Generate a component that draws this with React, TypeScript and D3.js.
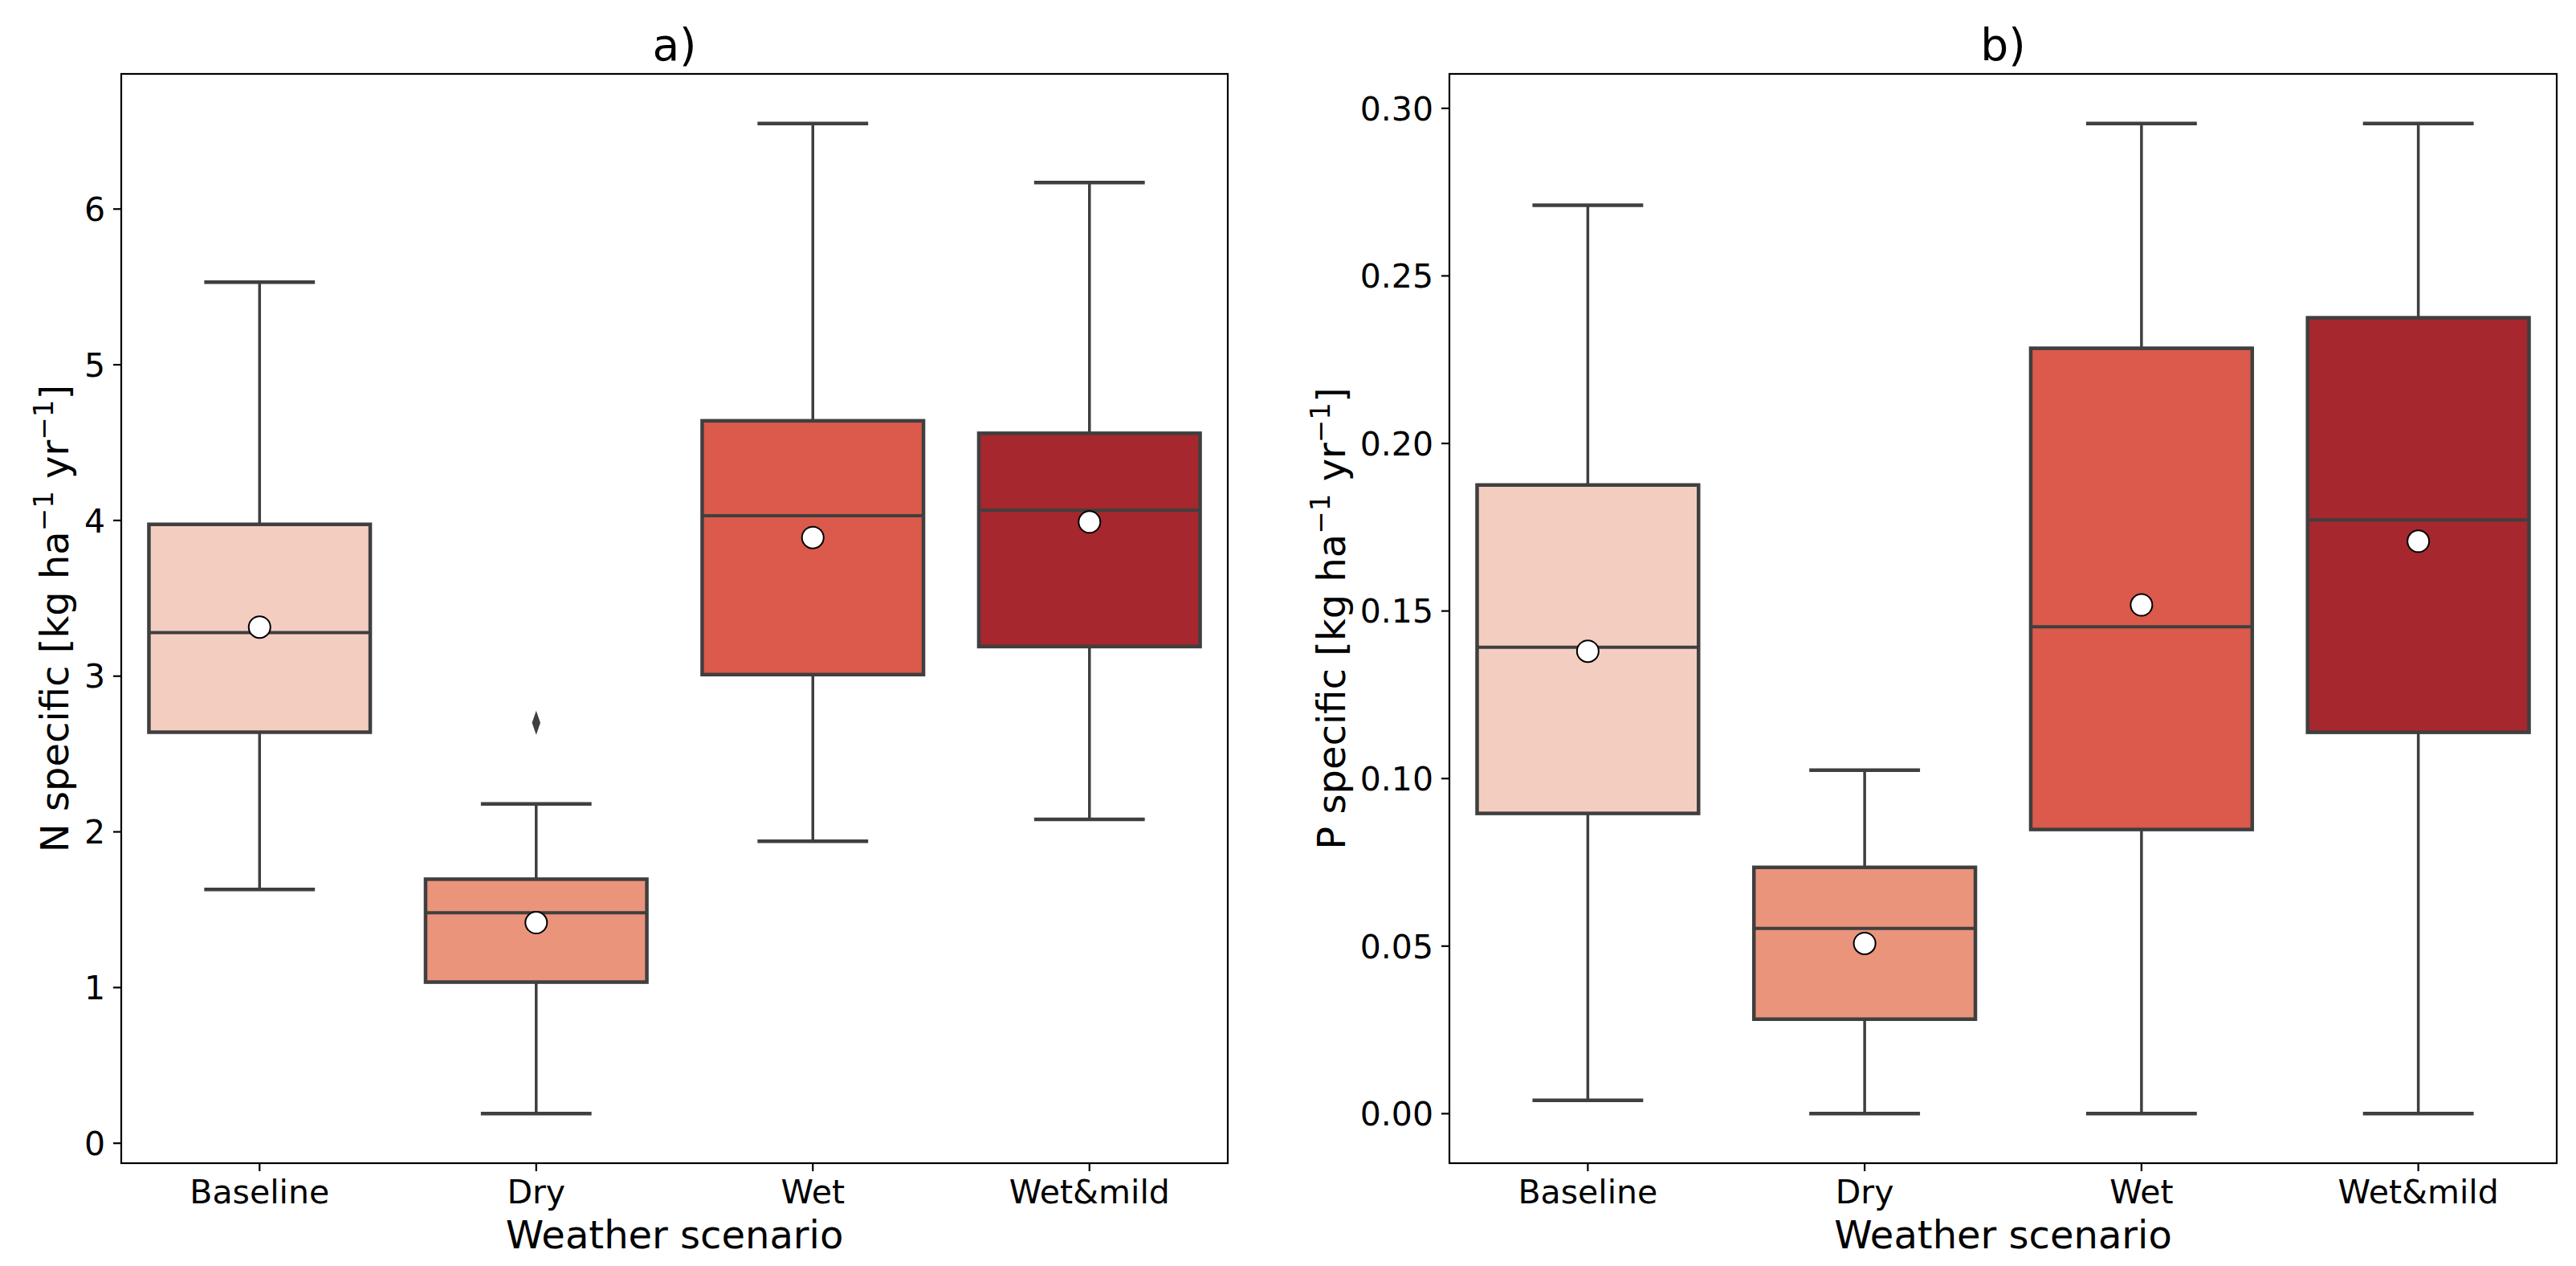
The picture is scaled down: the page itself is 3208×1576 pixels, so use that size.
import * as d3 from "d3";

const categories = ["Baseline", "Dry", "Wet", "Wet&mild"];
const boxColors = ["#f4cdc1", "#ea947b", "#db5a4b", "#a6272d"];

// panel a: N specific
const nLow = [1.63, 0.19, 1.94, 2.08];
const nQ1 = [2.64, 1.035, 3.01, 3.19];
const nMedian = [3.28, 1.48, 4.03, 4.065];
const nMean = [3.315, 1.417, 3.89, 3.99];
const nQ3 = [3.975, 1.696, 4.64, 4.56];
const nHigh = [5.53, 2.18, 6.55, 6.17];
const nOutliers = [[], [2.7], [], []];
const nTicks = [0, 1, 2, 3, 4, 5, 6];

// panel b: P specific
const pLow = [0.004, 0, 0, 0];
const pQ1 = [0.0896, 0.0282, 0.0848, 0.1138];
const pMedian = [0.1392, 0.0553, 0.1453, 0.1772];
const pMean = [0.138, 0.0508, 0.1518, 0.1708];
const pQ3 = [0.1876, 0.0735, 0.2284, 0.2375];
const pHigh = [0.2711, 0.1025, 0.2955, 0.2955];
const pOutliers = [[], [], [], []];
const pTicks = [0, 0.05, 0.1, 0.15, 0.2, 0.25, 0.3];

const W = 3208;
const H = 1576;
const TOP = 92;
const BOTTOM = 1448;
const EDGE = "#3f3f3f";
const FONT = "DejaVu Sans";

interface PanelProps {
  x0: number;
  x1: number;
  title: string;
  label: string;
  low: number[];
  q1: number[];
  median: number[];
  mean: number[];
  q3: number[];
  high: number[];
  outliers: number[][];
  ticks: number[];
  fmt: (v: number) => string;
  labelX: number;
}

const diamond = d3.symbol().type(d3.symbolDiamond).size(260)();

function Panel(p: PanelProps) {
  const x = d3.scalePoint<string>().domain(categories).range([p.x0, p.x1]).padding(0.5);
  const step = x.step();
  const bw = step * 0.8;
  const cw = bw / 2;
  const all = [...p.low, ...p.high, ...p.outliers.flat()];
  const lo = d3.min(all)!;
  const hi = d3.max(all)!;
  const m = (hi - lo) * 0.05;
  const y = d3.scaleLinear().domain([lo - m, hi + m]).range([BOTTOM, TOP]);
  const cx = (p.x0 + p.x1) / 2;
  const cy = (TOP + BOTTOM) / 2;

  return (
    <g>
      {categories.map((c, i) => {
        const xc = x(c)!;
        return (
          <g key={c}>
            <line x1={xc} x2={xc} y1={y(p.q3[i])} y2={y(p.high[i])} stroke={EDGE} strokeWidth={3.5} />
            <line x1={xc} x2={xc} y1={y(p.q1[i])} y2={y(p.low[i])} stroke={EDGE} strokeWidth={3.5} />
            <line x1={xc - cw / 2} x2={xc + cw / 2} y1={y(p.high[i])} y2={y(p.high[i])} stroke={EDGE} strokeWidth={4.5} />
            <line x1={xc - cw / 2} x2={xc + cw / 2} y1={y(p.low[i])} y2={y(p.low[i])} stroke={EDGE} strokeWidth={4.5} />
            <rect
              x={xc - bw / 2}
              y={y(p.q3[i])}
              width={bw}
              height={y(p.q1[i]) - y(p.q3[i])}
              fill={boxColors[i]}
              stroke={EDGE}
              strokeWidth={4.5}
            />
            <line x1={xc - bw / 2} x2={xc + bw / 2} y1={y(p.median[i])} y2={y(p.median[i])} stroke={EDGE} strokeWidth={4} />
            {p.outliers[i].map((o, k) => (
              <path key={k} d={diamond} transform={`translate(${xc},${y(o)}) scale(0.6,1)`} fill={EDGE} />
            ))}
            <circle cx={xc} cy={y(p.mean[i])} r={13.5} fill="white" stroke="black" strokeWidth={2} />
          </g>
        );
      })}
      <rect x={p.x0} y={TOP} width={p.x1 - p.x0} height={BOTTOM - TOP} fill="none" stroke="black" strokeWidth={2.2} />
      {p.ticks.map((t) => (
        <g key={t}>
          <line x1={p.x0 - 10} x2={p.x0} y1={y(t)} y2={y(t)} stroke="black" strokeWidth={2.2} />
          <text x={p.x0 - 20} y={y(t)} dy="0.36em" textAnchor="end" fontSize={41} fontFamily={FONT}>
            {p.fmt(t)}
          </text>
        </g>
      ))}
      {categories.map((c) => (
        <g key={c}>
          <line x1={x(c)!} x2={x(c)!} y1={BOTTOM} y2={BOTTOM + 10} stroke="black" strokeWidth={2.2} />
          <text x={x(c)!} y={1498} textAnchor="middle" fontSize={41} fontFamily={FONT}>
            {c}
          </text>
        </g>
      ))}
      <text x={cx} y={1554} textAnchor="middle" fontSize={48} fontFamily={FONT}>
        Weather scenario
      </text>
      <text x={cx} y={75} textAnchor="middle" fontSize={55} fontFamily={FONT}>
        {p.title}
      </text>
      <text transform={`translate(${p.labelX},${cy}) rotate(-90)`} textAnchor="middle" fontSize={48} fontFamily={FONT}>
        {p.label} [kg ha
        <tspan fontSize={34} dy={-19}>−1</tspan>
        <tspan dy={19}> yr</tspan>
        <tspan fontSize={34} dy={-19}>−1</tspan>
        <tspan dy={19}>]</tspan>
      </text>
    </g>
  );
}

export default function App() {
  return (
    <div style={{ position: "absolute", left: 0, top: 0 }}>
      <svg width={W} height={H} style={{ display: "block", background: "white" }}>
        <Panel
          x0={151}
          x1={1529}
          title="a)"
          label="N specific"
          low={nLow}
          q1={nQ1}
          median={nMedian}
          mean={nMean}
          q3={nQ3}
          high={nHigh}
          outliers={nOutliers}
          ticks={nTicks}
          fmt={d3.format("d")}
          labelX={85}
        />
        <Panel
          x0={1805}
          x1={3184}
          title="b)"
          label="P specific"
          low={pLow}
          q1={pQ1}
          median={pMedian}
          mean={pMean}
          q3={pQ3}
          high={pHigh}
          outliers={pOutliers}
          ticks={pTicks}
          fmt={d3.format(".2f")}
          labelX={1675}
        />
      </svg>
    </div>
  );
}
